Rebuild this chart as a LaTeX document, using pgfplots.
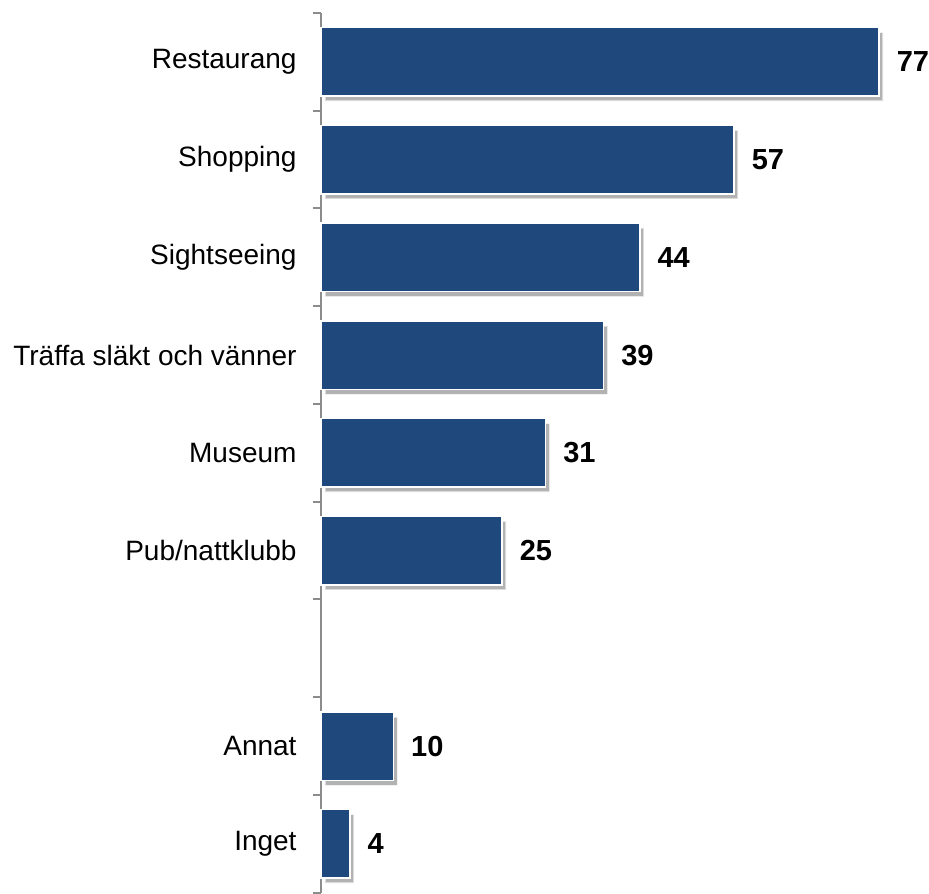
\documentclass[border=0pt]{standalone}
\usepackage{fontspec}
\setmainfont{Liberation Sans}
\usepackage{pgfplots}
\pgfplotsset{compat=1.18}
\usetikzlibrary{shadows}
\definecolor{barblue}{HTML}{1F497D}
\definecolor{axisgray}{HTML}{8C8C8C}
\begin{document}
\fontsize{14}{16}\selectfont
\begin{tikzpicture}
\begin{axis}[
  scale only axis,
  width=304pt, height=440pt,
  xbar, bar width=0.7,
  xmin=0, xmax=83.86,
  ymin=-0.5, ymax=8.5,
  y dir=reverse,
  hide x axis,
  axis y line*=left,
  axis line style={axisgray, line width=1pt},
  ytick={0,1,2,3,4,5,6,7,8},
  yticklabels={Restaurang,Shopping,Sightseeing,Träffa släkt och vänner,Museum,Pub/nattklubb,{},Annat,Inget},
  major tick length=0pt,
  minor ytick={-0.5,0.5,1.5,2.5,3.5,4.5,5.5,6.5,7.5,8.5},
  minor tick length=4pt,
  tick align=outside,
  minor tick style={axisgray, line width=1pt},
  every y tick label/.append style={font=\fontsize{14}{16}\selectfont, inner sep=0pt, xshift=-12pt},
  /pgf/number format/assume math mode=true,
  nodes near coords,
  every node near coord/.append style={font=\fontsize{14.5}{16}\selectfont\bfseries, anchor=west, inner sep=0pt, xshift=8.5pt, text=black},
  clip=false,
]
\addplot[fill=barblue, draw=white, line width=0.75pt,
  drop shadow={shadow xshift=2pt, shadow yshift=-2.5pt, fill=black!55, opacity=0.55}]
  coordinates {(77,0) (57,1) (44,2) (39,3) (31,4) (25,5) (10,7) (4,8)};
\end{axis}
\path (current axis.north west) ++(-160.5pt,6.5pt);
\path (current axis.south east);
\end{tikzpicture}
\end{document}
